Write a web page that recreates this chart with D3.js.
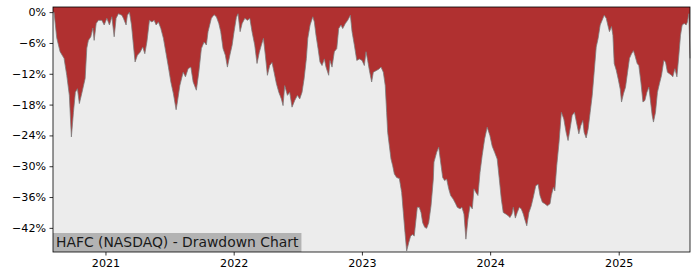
<!DOCTYPE html>
<html>
<head>
<meta charset="utf-8">
<script src="https://cdn.jsdelivr.net/npm/d3@7"></script>
<style>
  body { margin: 0; background: #fff; }
  svg text { font-family: "DejaVu Sans", sans-serif; }
</style>
</head>
<body>
<div id="chart"></div>
<script>
// decimal years
var years = [
  2020.592, 2020.600, 2020.621, 2020.647, 2020.678, 2020.699, 2020.719, 2020.735, 2020.751, 2020.766,
  2020.782, 2020.797, 2020.816, 2020.842, 2020.855, 2020.867, 2020.886, 2020.902, 2020.912, 2020.928,
  2020.945, 2020.972, 2020.990, 2021.011, 2021.031, 2021.050, 2021.068, 2021.083, 2021.101, 2021.128,
  2021.140, 2021.161, 2021.171, 2021.187, 2021.203, 2021.218, 2021.231, 2021.249, 2021.270, 2021.291,
  2021.307, 2021.323, 2021.343, 2021.362, 2021.380, 2021.395, 2021.413, 2021.432, 2021.452, 2021.473,
  2021.491, 2021.510, 2021.530, 2021.551, 2021.561, 2021.580, 2021.606, 2021.624, 2021.645, 2021.666,
  2021.684, 2021.709, 2021.728, 2021.748, 2021.769, 2021.787, 2021.800, 2021.826, 2021.847, 2021.865,
  2021.884, 2021.899, 2021.917, 2021.935, 2021.951, 2021.970, 2021.988, 2022.003, 2022.021, 2022.034,
  2022.050, 2022.066, 2022.087, 2022.107, 2022.126, 2022.143, 2022.164, 2022.182, 2022.200, 2022.216,
  2022.232, 2022.247, 2022.263, 2022.281, 2022.299, 2022.315, 2022.333, 2022.352, 2022.372, 2022.385,
  2022.398, 2022.419, 2022.437, 2022.455, 2022.476, 2022.497, 2022.515, 2022.533, 2022.549, 2022.567,
  2022.578, 2022.596, 2022.617, 2022.629, 2022.642, 2022.658, 2022.673, 2022.689, 2022.707, 2022.720,
  2022.741, 2022.751, 2022.767, 2022.785, 2022.804, 2022.819, 2022.837, 2022.850, 2022.871, 2022.889,
  2022.910, 2022.923, 2022.941, 2022.960, 2022.980, 2023.001, 2023.019, 2023.032, 2023.045, 2023.058,
  2023.076, 2023.089, 2023.110, 2023.131, 2023.149, 2023.167, 2023.182, 2023.193, 2023.201, 2023.214,
  2023.227, 2023.240, 2023.253, 2023.271, 2023.292, 2023.310, 2023.323, 2023.336, 2023.349, 2023.365,
  2023.380, 2023.396, 2023.408, 2023.422, 2023.432, 2023.447, 2023.461, 2023.474, 2023.490, 2023.505,
  2023.521, 2023.539, 2023.557, 2023.562, 2023.583, 2023.599, 2023.614, 2023.630, 2023.645, 2023.661,
  2023.677, 2023.692, 2023.712, 2023.731, 2023.744, 2023.765, 2023.780, 2023.796, 2023.811, 2023.827,
  2023.843, 2023.861, 2023.874, 2023.889, 2023.905, 2023.921, 2023.938, 2023.957, 2023.977, 2023.998,
  2024.016, 2024.035, 2024.055, 2024.071, 2024.087, 2024.102, 2024.121, 2024.139, 2024.154, 2024.170,
  2024.180, 2024.196, 2024.211, 2024.227, 2024.242, 2024.258, 2024.269, 2024.285, 2024.302, 2024.320,
  2024.336, 2024.355, 2024.373, 2024.388, 2024.406, 2024.425, 2024.445, 2024.466, 2024.476, 2024.492,
  2024.503, 2024.518, 2024.536, 2024.554, 2024.573, 2024.591, 2024.606, 2024.622, 2024.638, 2024.656,
  2024.671, 2024.690, 2024.705, 2024.721, 2024.731, 2024.747, 2024.762, 2024.778, 2024.794, 2024.809,
  2024.825, 2024.840, 2024.856, 2024.871, 2024.887, 2024.903, 2024.918, 2024.928, 2024.944, 2024.955,
  2024.965, 2024.981, 2024.996, 2025.012, 2025.022, 2025.037, 2025.053, 2025.069, 2025.084, 2025.100,
  2025.115, 2025.126, 2025.144, 2025.157, 2025.173, 2025.189, 2025.204, 2025.220, 2025.235, 2025.246,
  2025.261, 2025.271, 2025.287, 2025.302, 2025.318, 2025.334, 2025.352, 2025.365, 2025.380, 2025.396,
  2025.412, 2025.422, 2025.438, 2025.454, 2025.469, 2025.482, 2025.495, 2025.511, 2025.526, 2025.536,
  2025.547, 2025.556
];

// drawdown in percent, same order
var drawdown = [
  0.0, 0.0, -5.0, -7.7, -9.0, -12.3, -16.2, -24.3, -19.5, -15.6,
  -14.9, -17.8, -15.8, -12.9, -7.0, -5.5, -4.8, -3.1, -5.5, -2.2,
  -1.6, -1.6, -2.5, -1.2, -2.5, -0.9, -4.8, -1.2, -0.3, -0.6,
  -1.2, -2.5, -0.6, 0.0, -2.5, -6.4, -9.7, -8.4, -7.8, -6.8,
  -8.1, -5.8, -1.6, -1.9, -1.6, -2.5, -1.9, -3.2, -5.1, -8.1,
  -10.7, -13.6, -15.9, -19.0, -17.5, -14.3, -11.7, -12.6, -11.0, -10.7,
  -13.6, -15.2, -11.7, -7.1, -5.8, -6.4, -3.8, -1.2, -0.5, -0.9,
  -2.2, -3.8, -7.1, -8.4, -10.7, -8.4, -6.4, -3.8, -1.0, -0.3,
  -3.8, -2.2, -1.2, -1.6, -1.2, -3.8, -6.4, -10.0, -7.8, -6.4,
  -5.1, -8.4, -12.3, -10.4, -9.8, -11.7, -13.9, -15.6, -16.9, -18.2,
  -14.3, -16.2, -15.6, -18.5, -17.2, -16.2, -16.9, -15.6, -13.0, -9.0,
  -5.1, -2.5, -0.9, -1.9, -4.5, -7.1, -9.7, -10.4, -9.1, -10.7,
  -12.3, -9.4, -10.7, -7.7, -7.1, -3.2, -2.5, -3.2, -2.2, -1.6,
  -0.6, -3.8, -6.4, -9.4, -9.1, -9.4, -10.4, -7.7, -9.4, -11.3,
  -13.6, -11.7, -11.4, -11.1, -10.7, -11.7, -14.3, -19.5, -23.4, -26.0,
  -28.6, -29.9, -31.5, -32.2, -32.4, -35.1, -39.0, -42.9, -46.5, -44.9,
  -43.6, -43.3, -43.6, -40.3, -38.0, -38.0, -39.0, -41.0, -41.9, -42.1,
  -41.0, -37.7, -32.5, -29.2, -27.3, -26.3, -29.2, -32.2, -32.8, -32.5,
  -34.4, -35.7, -36.4, -37.3, -38.0, -38.3, -38.0, -39.3, -44.2, -40.3,
  -37.7, -38.3, -34.4, -35.1, -35.7, -31.2, -27.9, -24.7, -22.4, -24.0,
  -26.1, -27.3, -28.6, -32.4, -36.4, -39.0, -39.3, -39.6, -40.0, -39.3,
  -38.0, -40.1, -39.0, -38.0, -38.3, -39.3, -40.3, -41.6, -39.0, -37.7,
  -36.0, -33.8, -33.5, -35.7, -37.0, -37.3, -37.7, -37.3, -35.7, -34.1,
  -34.8, -29.9, -25.3, -19.5, -20.8, -23.4, -25.0, -22.7, -20.1, -19.5,
  -21.4, -23.7, -22.1, -21.1, -23.4, -24.5, -22.8, -19.5, -16.2, -11.7,
  -6.8, -5.1, -2.5, -1.6, -0.6, -1.2, -2.8, -3.8, -2.8, -4.5,
  -10.0, -11.3, -13.0, -15.0, -17.5, -15.9, -14.6, -11.7, -9.0, -8.1,
  -7.5, -8.4, -10.0, -10.4, -13.6, -17.5, -17.2, -15.6, -14.6, -16.9,
  -20.1, -21.4, -19.5, -15.6, -13.9, -12.3, -9.4, -9.7, -11.7, -12.0,
  -12.3, -12.6, -11.0, -12.6, -8.4, -4.5, -2.5, -2.2, -2.5, -1.9,
  -0.3, -9.0
];

var yTicks = [0, -6, -12, -18, -24, -30, -36, -42];
var yDomain = [-46.7, 1.0];
var titleText = "HAFC (NASDAQ) - Drawdown Chart";

var width = 700, height = 280;
var margin = {top: 7, right: 10, bottom: 28, left: 53};

// decimal year -> Date
function toDate(t) {
    var y = Math.floor(t);
    var start = Date.UTC(y, 0, 1), end = Date.UTC(y + 1, 0, 1);
    return new Date(start + (t - y) * (end - start));
}

var data = years.map(function (t, i) { return {date: toDate(t), value: drawdown[i]}; });

var svg = d3.select("#chart").append("svg")
    .attr("width", width)
    .attr("height", height);

var x = d3.scaleUtc()
    .domain(d3.extent(data, function (d) { return d.date; }))
    .range([margin.left, width - margin.right]);

var y = d3.scaleLinear()
    .domain(yDomain)
    .range([height - margin.bottom, margin.top]);

// plot background
svg.append("rect")
    .attr("x", margin.left)
    .attr("y", margin.top)
    .attr("width", width - margin.left - margin.right)
    .attr("height", height - margin.top - margin.bottom)
    .attr("fill", "#ececec");

var area = d3.area()
    .x(function (d) { return x(d.date); })
    .y0(y(yDomain[1]))
    .y1(function (d) { return y(d.value); });

var line = d3.line()
    .x(function (d) { return x(d.date); })
    .y(function (d) { return y(d.value); });

svg.append("path")
    .datum(data)
    .attr("d", area)
    .attr("fill", "#b03030");

svg.append("path")
    .datum(data)
    .attr("d", line)
    .attr("fill", "none")
    .attr("stroke", "#7a7a7a")
    .attr("stroke-width", 0.9)
    .attr("stroke-opacity", 0.85);

// title box in lower left
var title = svg.append("g");
var titleBg = title.append("rect").attr("fill", "#b3b3b3");
var titleLabel = title.append("text")
    .attr("x", margin.left + 3)
    .attr("y", height - margin.bottom - 5.5)
    .attr("font-size", "13.9px")
    .attr("fill", "#1a1a1a")
    .text(titleText);
var tw = titleLabel.node().getComputedTextLength();
titleBg.attr("x", margin.left)
    .attr("y", height - margin.bottom - 19)
    .attr("width", tw + 6)
    .attr("height", 19);

// axes
var xAxis = d3.axisBottom(x)
    .ticks(d3.utcYear.every(1))
    .tickFormat(d3.utcFormat("%Y"))
    .tickSize(3.5)
    .tickPadding(3.5);

var yAxis = d3.axisLeft(y)
    .tickValues(yTicks)
    .tickFormat(function (d) { return d3.format("d")(d) + "%"; })
    .tickSize(3.5)
    .tickPadding(3.5);

var gx = svg.append("g")
    .attr("transform", "translate(0," + (height - margin.bottom) + ")")
    .call(xAxis);

var gy = svg.append("g")
    .attr("transform", "translate(" + margin.left + ",0)")
    .call(yAxis);

[gx, gy].forEach(function (g) {
    g.select(".domain").remove();
    g.selectAll("line").attr("stroke", "#000").attr("stroke-width", 0.8);
    g.selectAll("text").attr("font-size", "11.1px").attr("fill", "#000")
        .attr("font-family", "DejaVu Sans, sans-serif");
});

// frame
svg.append("rect")
    .attr("x", margin.left)
    .attr("y", margin.top)
    .attr("width", width - margin.left - margin.right)
    .attr("height", height - margin.top - margin.bottom)
    .attr("fill", "none")
    .attr("stroke", "#000")
    .attr("stroke-width", 0.8);
</script>
</body>
</html>
